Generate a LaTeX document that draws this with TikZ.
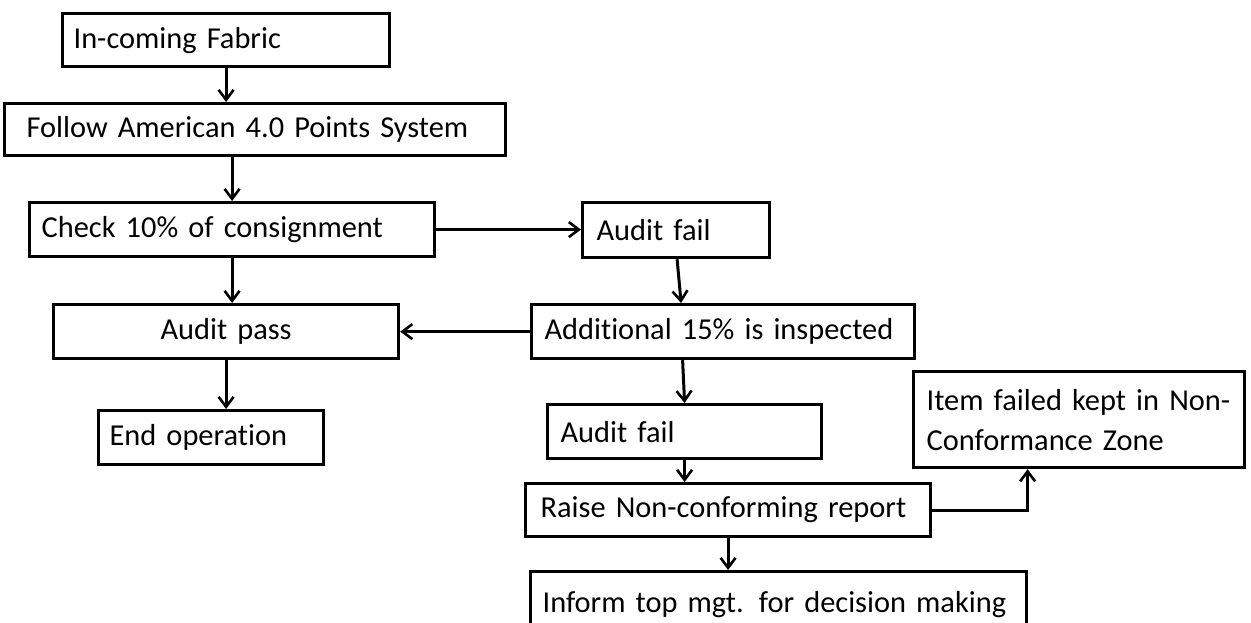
\documentclass[tikz,border=0pt]{standalone}
\usepackage{fontspec}
\setmainfont{Carlito}[Ligatures=NoCommon, WordSpace=0.9]
\usetikzlibrary{arrows.meta,calc}
\tikzset{
  box/.style={draw, line width=3.2pt, rectangle, anchor=north west, inner ysep=0pt,
    align=left, font=\fontsize{30.4}{40}\selectfont},
  conn/.style={line width=3pt, -{Straight Barb[length=10pt,width=15pt,line width=2.6pt]}},
}
\begin{document}
\begin{tikzpicture}[x=1pt,y=-1pt]
\clip (0,0) rectangle (1251,622);
\fill[white] (0,0) rectangle (1251,622);
\node[box, minimum width=327, minimum height=53, inner xsep=11, text width=305] (inc) at (61,12) {\mbox{In-coming Fabric}};
\node[box, minimum width=501, minimum height=52, inner xsep=22, text width=457] (fol) at (3,102) {\mbox{Follow American 4.0 Points System}};
\node[box, minimum width=405, minimum height=54, inner xsep=12, text width=381] (chk) at (28,201) {\mbox{Check 10\% of consignment}};
\node[box, minimum width=187, minimum height=55, inner xsep=14, text width=159] (af1) at (581,201) {\mbox{Audit fail}};
\node[box, minimum width=383, minimum height=54, inner xsep=13, text width=357] (add) at (530,303) {\mbox{Additional 15\% is inspected}};
\node[box, minimum width=345, minimum height=54, inner xsep=12, text width=321, align=center] (pass) at (52,303) {\mbox{Audit pass}};
\node[box, minimum width=225, minimum height=54, inner xsep=11, text width=203] (end) at (97,409) {\mbox{End operation}};
\node[box, minimum width=274, minimum height=54, inner xsep=13, text width=248] (af2) at (546,403) {\mbox{Audit fail}};
\node[box, minimum width=405, minimum height=53, inner xsep=15, text width=375] (rai) at (524,482) {\mbox{Raise Non-conforming report}};
\node[box, minimum width=331, minimum height=96, inner xsep=13, text width=305] (nc) at (912,370) {\mbox{Item failed kept in Non-}\\\mbox{Conformance Zone}};
\node[box, minimum width=496, minimum height=66, inner xsep=12, text width=472] (inf) at (529,570) {\mbox{Inform top mgt. for decision making}};

\draw[conn] (inc.south) -- (inc.south |- fol.north);
\draw[conn] (fol.south -| chk.south) -- (chk.north);
\draw[conn] (chk.east) -- (chk.east -| af1.west);
\draw[conn] (chk.south) -- (chk.south |- pass.north);
\draw[conn] ([xshift=1pt]af1.south) -- ([xshift=5pt]af1.south |- add.north);
\draw[conn] (add.west) -- (add.west -| pass.east);
\draw[conn] (pass.south) -- (pass.south |- end.north);
\draw[conn] ([xshift=-2pt]add.south -| af2.north) -- (af2.north);
\draw[conn] (af2.south) -- (af2.south |- rai.north);
\draw[conn] (rai.south) -- (rai.south |- inf.north);
\draw[conn] (rai.east) -| ([xshift=-51.5pt]nc.south);
\end{tikzpicture}
\end{document}
